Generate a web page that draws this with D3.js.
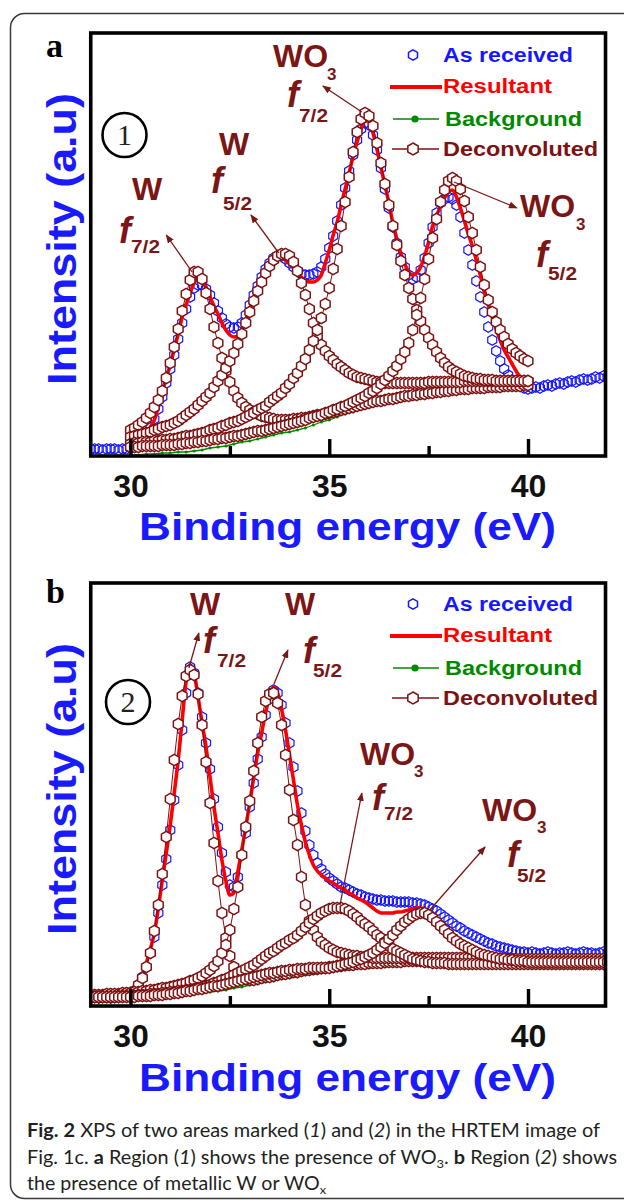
<!DOCTYPE html>
<html>
<head>
<meta charset="utf-8">
<script src="https://cdn.jsdelivr.net/npm/d3@7/dist/d3.min.js"></script>
<style>
html,body{margin:0;padding:0;background:#fff;}
svg{display:block;}
</style>
</head>
<body>
<svg id="chart" width="624" height="1202" xmlns="http://www.w3.org/2000/svg"></svg>
<script>
// ======================= DATA =======================
const xTickValues = [30, 35, 40];
const xMinorTickValues = [32.5, 37.5];
const xTickLabels = ["30", "35", "40"];
const xTitle = "Binding energy (eV)";
const yTitle = "Intensity (a.u)";
const legendLabels = ["As received", "Resultant", "Background", "Deconvoluted"];
const energyStep = 0.1;      // eV between data points
const backgroundStep = 0.2;  // eV between background points

// ---------- Panel a : region (1) ----------
const aReceivedStart = 29.0;
const aReceived = [
  6,6,6,5,6,6,6,5,6,6,
  7,8,10,14,20,27,36,46,58,72,
  86,100,116,132,146,158,167,170,170,166,
  160,152,144,137,131,128,127,128,132,140,
  150,160,169,178,186,192,197,199,199,196,
  192,188,184,181,180,180,181,183,188,196,
  207,219,234,250,267,284,300,315,326,332,
  330,320,305,287,266,247,228,212,198,188,
  180,176,178,185,197,212,228,242,252,256,
  258,256,250,238,222,205,190,174,158,143,
  128,115,104,94,86,80,75,72,69,67,
  66,67,68,67,69,70,69,71,72,71,
  73,74,73,75,76,75,76,78,77,79,
  78];
const aResultantStart = 30.5;
const aResultant = [
  28,35,48,63,77,
  90,106,121,138,150,162,172,178,175,168,
  158,149,141,132,125,120,118,119,125,135,
  146,157,166,175,183,189,194,197,197,195,
  191,187,182,178,174,173,173,175,180,192,
  205,220,233,250,266,282,299,313,326,334,
  334,322,306,288,270,252,232,216,202,191,
  183,180,182,188,199,213,229,240,248,257,
  263,265,258,247,234,221,209,195,180,163,
  150,138,126,115,105,98,91,84,78,72,
  66];
const aBackgroundStart = 30.0;
const aBackground = [
  0,0,1,1,2, 2,3,3,4,5, 7,8,9,11,13, 14,16,18,20,22, 23,25,27,30,33,
  35,38,41,43,46, 48,50,52,54,55, 56,57,58,59,60, 61,62,63,63,64, 64,65,65,65,65,
  66];
const aDeconvStart = 30.0;
const aDeconvW72 = [
  25,27,30,33,37,42,48,55,64,77,
  92,108,126,144,161,175,183,183,176,162,
  146,128,112,97,84,73,64,57,52,48,
  45,43,41,39,38,37,36,35,35,35,
  35,36,36,37,37,38,39,40,40,41,
  42,43,44,45,46,47,48,49,50,51,
  52,53,54,54,55,56,56,57,58,59,
  59,60,60,61,61,62,62,63,63,64,
  64,65,65,66,66,66,67,67,67,67,
  68,68,68,68,69,69,69,69,69,70,
  70];
const aDeconvW52 = [
  18,19,20,21,22,23,25,26,28,29,
  30,32,34,37,40,43,46,50,54,58,
  62,68,74,80,87,94,102,111,121,132,
  143,154,164,173,182,189,195,199,201,201,
  199,193,184,172,160,146,132,119,110,104,
  99,95,91,88,85,82,80,78,77,76,
  75,74,73,73,72,72,72,72,72,72,
  72,72,72,72,72,73,73,73,73,73,
  73,73,73,73,74,74,74,74,74,74,
  74,74,74,74,74,74,74,74,74,74,
  74];
const aDeconvO72 = [
  11,12,12,13,13,13,14,14,15,15,
  16,16,17,18,19,19,20,21,22,23,
  25,26,27,29,30,32,33,34,36,38,
  40,42,45,47,49,53,56,59,62,67,
  71,77,82,89,96,105,114,125,137,151,
  167,186,206,229,253,278,303,323,336,342,
  339,329,312,292,271,250,229,210,194,180,
  167,156,145,134,125,117,110,103,97,92,
  88,85,83,81,79,78,77,76,76,75,
  75,75,74,74,74,74,74,74,74,74,
  74];
const aDeconvO52 = [
  8,8,8,9,9,9,9,9,10,10,
  10,10,11,11,12,12,13,13,14,14,
  15,16,16,17,17,18,19,19,20,21,
  22,23,24,24,25,26,27,28,29,30,
  31,32,33,34,35,37,38,39,40,42,
  43,45,46,48,49,51,53,55,57,59,
  62,64,67,71,75,79,84,89,96,103,
  112,125,140,157,176,196,217,236,253,265,
  274,277,274,266,254,238,222,205,188,170,
  155,143,133,125,118,111,106,102,99,96,
  94];

// ---------- Panel b : region (2) ----------
const bReceivedStart = 29.0;
const bReceived = [
  8,8,7,8,8,7,8,8,8,9,
  10,14,20,28,38,52,68,92,120,146,
  175,205,240,275,312,338,332,312,288,262,
  236,206,178,152,133,120,118,128,150,172,
  198,222,246,268,290,306,315,312,300,282,
  262,238,214,192,174,160,150,142,136,131,
  127,124,121,118,117,115,113,111,110,108,
  107,106,105,105,104,104,104,103,103,103,
  103,102,102,101,100,98,96,94,91,88,
  85,82,79,77,74,72,70,68,66,64,
  62,61,59,58,57,56,55,54,53,53,
  52,53,52,51,52,53,52,51,52,52,
  53,52,51,52,53,52,52,51,52,53,
  52];
const bResultantStart = 30.1;
const bResultant = [
  15,22,30,42,56,72,97,125,152,
  180,212,245,285,324,340,332,308,282,258,
  228,198,172,145,124,110,112,133,155,178,
  202,228,252,272,293,308,318,312,296,275,
  250,225,200,180,163,150,140,134,130,127,
  124,122,119,117,115,112,110,107,105,103,
  100,97,94,92,92,92,92,93,93,94,
  95,96,97,97,96,93,89,85,81,77,
  72,68,65,62,59,57,56,54,53,52,
  51,50,50,49,49,49,48,48,48,48,
  48];
const bBackgroundStart = 29.0;
const bBackground = [
  6,6,6,6,6, 6,6,7,7,8, 8,9,10,11,12, 13,14,15,17,18, 20,21,23,24,26,
  27,28,30,31,32, 33,34,35,36,37, 37,38,38,39,39, 40,40,40,41,41,
  41,41,41,41,41, 41,41,41,41,41, 41,41,41,41,41, 41,41,41,41,41,
  41];
const bDeconvStart = 29.0;
const bDeconvW72 = [
  8,8,8,8,8,8,8,8,9,10,
  12,14,20,27,38,52,74,100,131,168,
  206,245,281,309,329,335,330,311,280,243,
  202,162,124,92,67,49,38,32,28,26,
  25,25,26,27,28,28,29,30,31,31,
  32,33,33,34,35,35,36,36,37,37,
  38,38,39,39,40,40,40,41,41,41,
  42,42,42,42,43,43,43,43,43,44,
  44,44,44,44,44,44,44,45,45,45,
  45,45,45,45,45,45,45,45,45,45,
  45,45,45,45,45,45,45,45,45,45,
  45,45,45,45,45,45,45,45,45,45,
  45,45,45,45,45,45,45,45,45,45,
  45];
const bDeconvW52 = [
  10,10,10,10,11,11,11,11,12,12,
  12,13,13,14,14,15,15,16,17,17,
  18,19,20,21,22,24,25,27,29,32,
  35,39,44,52,60,75,96,118,150,178,
  204,234,262,288,304,311,312,302,280,250,
  215,185,160,128,100,84,75,68,63,60,
  57,55,53,52,51,50,49,49,48,48,
  48,47,47,47,47,47,47,47,47,47,
  47,47,47,47,47,47,47,47,47,47,
  47,47,47,47,47,47,47,47,47,47,
  47,46,46,46,46,46,46,46,46,46,
  46,46,46,46,46,46,46,46,46,46,
  46,46,46,46,46,46,46,46,46,46,
  46];
const bDeconvO72 = [
  8,8,8,8,8,8,8,9,9,9,
  9,9,10,10,10,11,11,11,12,12,
  13,13,14,14,15,15,16,17,18,19,
  20,22,23,25,26,28,30,32,34,36,
  38,40,43,46,49,52,54,57,60,62,
  65,67,70,74,78,82,86,89,92,94,
  96,97,97,97,96,94,91,88,84,81,
  78,74,70,67,63,59,56,54,52,50,
  48,46,45,44,43,43,42,42,42,42,
  41,41,41,41,41,41,41,41,41,41,
  41,41,41,41,41,41,41,41,41,41,
  41,41,41,41,41,41,41,41,41,41,
  41,41,41,41,41,41,41,41,41,41,
  41];
const bDeconvO52 = [
  8,8,8,8,8,8,8,8,8,8,
  8,8,9,9,9,9,10,10,10,11,
  11,12,12,13,14,14,15,16,16,17,
  18,19,19,20,21,22,23,24,25,26,
  27,28,29,30,31,32,32,33,34,34,
  35,35,36,36,36,37,37,37,37,37,
  37,38,39,40,41,42,43,45,46,48,
  50,52,55,58,62,66,70,75,79,83,
  86,89,91,92,92,90,87,83,79,75,
  71,67,64,61,59,57,55,53,51,50,
  49,48,47,46,46,45,45,44,44,44,
  43,43,43,43,43,43,43,43,43,43,
  43,43,43,43,43,43,43,43,43,43,
  43];

// Peak annotations: arrow tail/head in (energy eV, intensity a.u.)
const aArrows = [
  [[31.55, 183], [30.90, 220]],
  [[33.73, 202], [33.03, 240]],
  [[35.82, 343], [34.84, 369]],
  [[38.14, 273], [39.72, 247]]
];
const bArrows = [
  [[31.47, 337], [31.72, 372]],
  [[33.61, 321], [33.96, 355]],
  [[35.27, 100], [35.82, 212]],
  [[37.53, 95], [38.92, 158]]
];

// ======================= LAYOUT / STYLE =======================
const C = {
  blue: "#1717ff", red: "#ff0000", green: "#008a00", dark: "#7d1212",
  annot: "#7b1616", axisBlue: "#1a1aff"
};
const SANS = "'Liberation Sans', Arial, sans-serif";
const SERIF = "'Liberation Serif', 'Times New Roman', serif";

const svg = d3.select("#chart");
svg.append("rect").attr("width", 624).attr("height", 1202).attr("fill", "#fff");
// outer rounded figure box
svg.append("rect").attr("x", 10.5).attr("y", 13.5).attr("width", 660).attr("height", 1185)
  .attr("rx", 14).attr("fill", "none").attr("stroke", "#3a3a3a").attr("stroke-width", 1.5);

const defs = svg.append("defs");
defs.append("marker").attr("id", "arrowHead").attr("viewBox", "0 0 10 8")
  .attr("refX", 9).attr("refY", 4).attr("markerWidth", 9).attr("markerHeight", 7)
  .attr("markerUnits", "userSpaceOnUse").attr("orient", "auto")
  .append("path").attr("d", "M0,0 L10,4 L0,8 Z").attr("fill", C.annot);

const x = d3.scaleLinear().domain([30, 40]).range([130.5, 528]);
const xLimits = [29, 41.95];

function toSeries(start, step, values) {
  return values.map((v, i) => ({ e: Math.round((start + i * step) * 100) / 100, v }));
}
function hexPath(r) {
  const pts = d3.range(6).map(k => {
    const a = -Math.PI / 2 + k * Math.PI / 3;
    return [r * Math.cos(a), r * Math.sin(a)];
  });
  return d3.line()(pts) + "Z";
}

function drawPanel(p) {
  const g = svg.append("g");
  const y = d3.scaleLinear().domain([0, 420]).range(p.yRange);
  const x0 = x(xLimits[0]), x1 = x(xLimits[1]);

  const clipId = "clip-" + p.id;
  defs.append("clipPath").attr("id", clipId).append("rect")
    .attr("x", x0 + 1.5).attr("y", p.frameTop + 1.5)
    .attr("width", x1 - x0 - 3).attr("height", p.frameBottom - p.frameTop - 3);

  const plot = g.append("g").attr("clip-path", `url(#${clipId})`);

  // background (green)
  const bg = toSeries(p.bgStart, backgroundStep, p.bg);
  const line = d3.line().x(d => x(d.e)).y(d => y(d.v));
  plot.append("path").datum(bg).attr("d", line).attr("fill", "none")
    .attr("stroke", C.green).attr("stroke-width", 1.3);
  plot.selectAll(null).data(bg).join("circle")
    .attr("cx", d => x(d.e)).attr("cy", d => y(d.v)).attr("r", 1.6).attr("fill", C.green);

  // as received (blue open hexagons)
  const rec = toSeries(p.recStart, energyStep, p.rec);
  plot.selectAll(null).data(rec).join("path")
    .attr("d", hexPath(5.2))
    .attr("transform", d => `translate(${x(d.e)},${y(d.v)})`)
    .attr("fill", "none").attr("stroke", C.blue).attr("stroke-width", 1.2);

  // resultant (red line)
  const res = toSeries(p.resStart, energyStep, p.res);
  plot.append("path").datum(res)
    .attr("d", d3.line().x(d => x(d.e)).y(d => y(d.v)).curve(d3.curveMonotoneX))
    .attr("fill", "none").attr("stroke", C.red).attr("stroke-width", 3.6)
    .attr("stroke-linejoin", "round");

  // deconvoluted components
  p.decs.forEach(vals => {
    const s = toSeries(p.decStart, energyStep, vals);
    plot.append("path").datum(s).attr("d", line).attr("fill", "none")
      .attr("stroke", C.dark).attr("stroke-width", 1);
    plot.selectAll(null).data(s).join("path")
      .attr("d", hexPath(5.6))
      .attr("transform", d => `translate(${x(d.e)},${y(d.v)})`)
      .attr("fill", "#fff").attr("stroke", C.dark).attr("stroke-width", 1.5);
  });

  // frame
  g.append("rect").attr("x", x0).attr("y", p.frameTop)
    .attr("width", x1 - x0).attr("height", p.frameBottom - p.frameTop)
    .attr("fill", "none").attr("stroke", "#000").attr("stroke-width", 3.6);

  // x axis ticks (inward)
  const axMajor = g.append("g").attr("transform", `translate(0,${p.frameBottom})`)
    .call(d3.axisBottom(x).tickValues(xTickValues).tickSize(-17)
      .tickFormat((d, i) => xTickLabels[i]));
  const axMinor = g.append("g").attr("transform", `translate(0,${p.frameBottom})`)
    .call(d3.axisBottom(x).tickValues(xMinorTickValues).tickSize(-10).tickFormat(""));
  [axMajor, axMinor].forEach(a => {
    a.select(".domain").remove();
    a.selectAll(".tick line").attr("stroke", "#000").attr("stroke-width", 3.4);
  });
  axMajor.selectAll(".tick text")
    .attr("y", 41).attr("dy", null)
    .attr("font-family", SANS).attr("font-weight", "bold").attr("font-size", 32)
    .attr("fill", "#111");

  // axis titles
  g.append("text").attr("x", 139).attr("y", p.xTitleY)
    .attr("font-family", SANS).attr("font-weight", "bold").attr("font-size", 38)
    .attr("fill", C.axisBlue).attr("textLength", 417).attr("lengthAdjust", "spacingAndGlyphs")
    .text(xTitle);
  g.append("text")
    .attr("transform", `translate(76,${p.yTitleY}) rotate(-90)`)
    .attr("text-anchor", "middle")
    .attr("font-family", SANS).attr("font-weight", "bold").attr("font-size", 40)
    .attr("fill", C.axisBlue).attr("textLength", 292).attr("lengthAdjust", "spacingAndGlyphs")
    .text(yTitle);

  // panel letter
  g.append("text").attr("x", 46).attr("y", p.letterY)
    .attr("font-family", SERIF).attr("font-weight", "bold").attr("font-size", 34)
    .attr("fill", "#000").text(p.id);

  // circled region number
  g.append("circle").attr("cx", p.circle[0]).attr("cy", p.circle[1]).attr("r", 22)
    .attr("fill", "#fff").attr("stroke", "#000").attr("stroke-width", 2.6);
  g.append("text").attr("x", p.circle[0]).attr("y", p.circle[1] + 10)
    .attr("text-anchor", "middle").attr("font-family", SERIF).attr("font-size", 30)
    .attr("fill", "#222").text(p.number);

  // legend
  const L = g.append("g").attr("transform", `translate(0,${p.legendDy})`);
  L.append("path").attr("d", hexPath(5.2)).attr("transform", "translate(413,55)")
    .attr("fill", "none").attr("stroke", C.blue).attr("stroke-width", 1.5);
  L.append("line").attr("x1", 390).attr("x2", 442).attr("y1", 87).attr("y2", 87)
    .attr("stroke", C.red).attr("stroke-width", 4);
  L.append("line").attr("x1", 393).attr("x2", 439).attr("y1", 119).attr("y2", 119)
    .attr("stroke", C.green).attr("stroke-width", 1.5);
  L.append("circle").attr("cx", 415).attr("cy", 119).attr("r", 3.6).attr("fill", C.green);
  L.append("line").attr("x1", 392).attr("x2", 439).attr("y1", 149).attr("y2", 149)
    .attr("stroke", C.dark).attr("stroke-width", 1.5);
  L.append("path").attr("d", hexPath(6)).attr("transform", "translate(413,149)")
    .attr("fill", "#fff").attr("stroke", C.dark).attr("stroke-width", 1.5);
  const legendRows = [
    { t: legendLabels[0], x: 443, y: 62, c: C.blue, w: 130 },
    { t: legendLabels[1], x: 443, y: 93, c: C.red, w: 109 },
    { t: legendLabels[2], x: 445, y: 126, c: C.green, w: 137 },
    { t: legendLabels[3], x: 443, y: 156, c: C.dark, w: 155 }
  ];
  legendRows.forEach(r => {
    L.append("text").attr("x", r.x).attr("y", r.y)
      .attr("font-family", SANS).attr("font-weight", "bold").attr("font-size", 20)
      .attr("fill", r.c).attr("textLength", r.w).attr("lengthAdjust", "spacingAndGlyphs")
      .text(r.t);
  });

  // peak labels
  p.labels.forEach(lb => {
    const t = g.append("text").attr("font-family", SANS).attr("font-weight", "bold")
      .attr("fill", C.annot);
    t.append("tspan").attr("x", lb.sp[0]).attr("y", lb.sp[1]).attr("font-size", 32)
      .attr("text-anchor", lb.oxide ? "start" : "middle").text(lb.oxide ? "WO" : "W");
    if (lb.oxide) {
      g.append("text").attr("x", lb.three[0]).attr("y", lb.three[1])
        .attr("font-family", SANS).attr("font-weight", "bold").attr("font-size", 17)
        .attr("fill", C.annot).text("3");
    }
    g.append("text").attr("x", lb.f[0]).attr("y", lb.f[1])
      .attr("font-family", SANS).attr("font-weight", "bold").attr("font-style", "italic")
      .attr("font-size", 36).attr("fill", C.annot).text("f");
    g.append("text").attr("x", lb.f[0] + lb.subOff[0]).attr("y", lb.f[1] + lb.subOff[1])
      .attr("font-family", SANS).attr("font-weight", "bold").attr("font-size", 19)
      .attr("fill", C.annot).attr("textLength", 29).attr("lengthAdjust", "spacingAndGlyphs")
      .text(lb.sub);
  });

  // arrows
  p.arrows.forEach(([from, to]) => {
    g.append("line")
      .attr("x1", x(from[0])).attr("y1", y(from[1]))
      .attr("x2", x(to[0])).attr("y2", y(to[1]))
      .attr("stroke", C.annot).attr("stroke-width", 1.3)
      .attr("marker-end", "url(#arrowHead)");
  });
}

drawPanel({
  id: "a", number: "1", frameTop: 33, frameBottom: 456, yRange: [455, 35],
  rec: aReceived, recStart: aReceivedStart, res: aResultant, resStart: aResultantStart,
  bg: aBackground, bgStart: aBackgroundStart,
  decs: [aDeconvW72, aDeconvW52, aDeconvO72, aDeconvO52], decStart: aDeconvStart,
  xTitleY: 540, yTitleY: 239, letterY: 57, circle: [124.5, 135], legendDy: 0,
  arrows: aArrows,
  labels: [
    { oxide: false, sp: [147, 200], f: [119, 243], subOff: [12, 10], sub: "7/2" },
    { oxide: false, sp: [234, 155], f: [211, 193], subOff: [12, 17], sub: "5/2" },
    { oxide: true, sp: [273, 67], three: [327, 80], f: [287, 107], subOff: [12, 15], sub: "7/2" },
    { oxide: true, sp: [520, 217], three: [576, 230], f: [536, 267], subOff: [12, 13], sub: "5/2" }
  ]
});
drawPanel({
  id: "b", number: "2", frameTop: 583, frameBottom: 1006, yRange: [1005, 585],
  rec: bReceived, recStart: bReceivedStart, res: bResultant, resStart: bResultantStart,
  bg: bBackground, bgStart: bBackgroundStart,
  decs: [bDeconvW72, bDeconvW52, bDeconvO72, bDeconvO52], decStart: bDeconvStart,
  xTitleY: 1091, yTitleY: 789, letterY: 603, circle: [128, 702], legendDy: 549,
  arrows: bArrows,
  labels: [
    { oxide: false, sp: [205, 615], f: [203, 653], subOff: [14, 14], sub: "7/2" },
    { oxide: false, sp: [300, 615], f: [303, 663], subOff: [10, 14], sub: "5/2" },
    { oxide: true, sp: [360, 765], three: [414, 777], f: [372, 810], subOff: [12, 10], sub: "7/2" },
    { oxide: true, sp: [482, 821], three: [537, 833], f: [507, 867], subOff: [10, 15], sub: "5/2" }
  ]
});

// ======================= CAPTION =======================
const CAP = "Lato, 'Noto Sans', sans-serif";
function captionLine(yb, len, parts) {
  const t = svg.append("text").attr("x", 27).attr("y", yb)
    .attr("font-family", CAP).attr("font-size", 18.5).attr("fill", "#231f20")
    .attr("textLength", len).attr("lengthAdjust", "spacingAndGlyphs");
  parts.forEach(pt => {
    const s = t.append("tspan").text(pt.t);
    if (pt.b) s.attr("font-weight", "bold");
    if (pt.i) s.attr("font-style", "italic");
    if (pt.sub) s.attr("font-size", 12).attr("dy", 4);
    if (pt.up) s.attr("dy", -4);
  });
}
captionLine(1137, 573, [
  { t: "Fig. 2", b: true }, { t: " XPS of two areas marked (" }, { t: "1", i: true },
  { t: ") and (" }, { t: "2", i: true }, { t: ") in the HRTEM image of" }
]);
captionLine(1164, 590, [
  { t: "Fig. 1c. " }, { t: "a", b: true }, { t: " Region (" }, { t: "1", i: true },
  { t: ") shows the presence of WO" }, { t: "3", sub: true }, { t: ". ", up: true },
  { t: "b", b: true }, { t: " Region (" }, { t: "2", i: true }, { t: ") shows" }
]);
captionLine(1190, 299, [
  { t: "the presence of metallic W or WO" }, { t: "x", sub: true }
]);
</script>
</body>
</html>
